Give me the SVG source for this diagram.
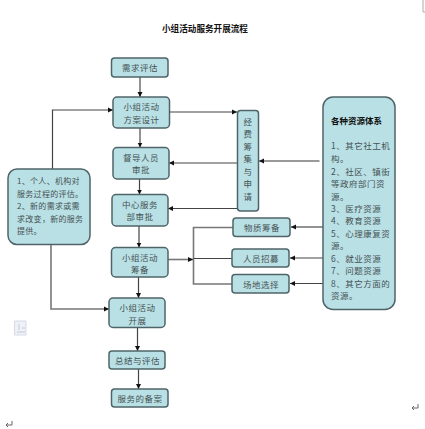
<svg xmlns="http://www.w3.org/2000/svg" width="425" height="429" viewBox="0 0 425 429">
<style>
.b{fill:#b9e0e5;stroke:#4f6468;stroke-width:1.5}
text{font-family:"Noto Sans CJK SC","Liberation Sans",sans-serif;font-size:8.5px;fill:#465254;letter-spacing:.5px}
.m{text-anchor:middle}
.s{font-size:8px;letter-spacing:.3px}
.t{fill:#111;font-weight:700;letter-spacing:0}
.c{fill:none;stroke:#444;stroke-width:1.2}
.g{stroke:#777;stroke-width:1.6;fill:none}
</style>
<defs>
<marker id="a" markerWidth="6" markerHeight="6" refX="5" refY="3" orient="auto" markerUnits="userSpaceOnUse"><path d="M0 0.5L5 3L0 5.500z" fill="#111"/></marker>
</defs>
<rect width="425" height="429" fill="#fff"/>
<path d="M423 0V12H425" fill="none" stroke="#aaa"/>
<text class="t m" x="205" y="32" style="font-size:8.6px">小组活动服务开展流程</text>
<g id="connectors" class="c">
<path d="M140 77V97" marker-end="url(#a)" class="g"/>
<path d="M140 128V147.5" marker-end="url(#a)" class="g"/>
<path d="M139.500 179V194.500" marker-end="url(#a)"/>
<path d="M139 226V247.500" marker-end="url(#a)"/>
<path d="M138.500 277V298" marker-end="url(#a)"/>
<path d="M137.500 327.500V351" marker-end="url(#a)"/>
<path d="M138.500 369V389" marker-end="url(#a)"/>
<path d="M52.500 169V110H113" marker-end="url(#a)"/>
<path d="M51 244.500V309H109" marker-end="url(#a)" class="g"/>
<path d="M169.500 112H237" marker-end="url(#a)"/>
<path d="M237 163H169" marker-end="url(#a)"/>
<path d="M237 208.500H168" marker-end="url(#a)"/>
<path d="M319.500 161H259" marker-end="url(#a)" class="g"/>
<path d="M323 227H291" marker-end="url(#a)" class="g"/>
<path d="M323 258H290" marker-end="url(#a)"/>
<path d="M323 283.500H290" marker-end="url(#a)"/>
<path d="M168 259.500H193" marker-end="url(#a)" class="g"/>
<path d="M233 227.500H193.500V284H232" class="g"/>
<path d="M193.500 258.500H232"/>
</g>
<g id="n1"><rect class="b" x="111.500" y="58" width="56.500" height="19" rx="3"/><text class="m" x="140" y="71">需求评估</text></g>
<g id="n2"><rect class="b" x="113" y="97" width="56.500" height="31" rx="4"/><text class="m" x="141.500" y="110">小组活动</text><text class="m" x="141.500" y="123">方案设计</text></g>
<g id="n3"><rect class="b" x="113" y="147.500" width="56" height="31.500" rx="4"/><text class="m" x="141" y="161">督导人员</text><text class="m" x="141" y="173">审批</text></g>
<g id="n4"><rect class="b" x="112" y="194.500" width="56" height="31.500" rx="4"/><text class="m" x="140" y="208">中心服务</text><text class="m" x="140" y="220">部审批</text></g>
<g id="n5"><rect class="b" x="111.500" y="247.500" width="56.500" height="29.500" rx="4"/><text class="m" x="140" y="261">小组活动</text><text class="m" x="140" y="273">筹备</text></g>
<g id="n6"><rect class="b" x="109" y="298" width="56" height="29.500" rx="4"/><text class="m" x="137.500" y="311">小组活动</text><text class="m" x="137.500" y="324">开展</text></g>
<g id="n7"><rect class="b" x="109" y="351" width="56" height="18" rx="3"/><text class="m" x="137.500" y="364">总结与评估</text></g>
<g id="n8"><rect class="b" x="111.500" y="389" width="56.500" height="18" rx="3"/><text class="m" x="140" y="402">服务的备案</text></g>
<g id="n9"><rect class="b" x="237.500" y="110.500" width="21" height="100.500" rx="3"/>
<text class="m" x="248" y="125">经</text><text class="m" x="248" y="137">费</text><text class="m" x="248" y="150">筹</text><text class="m" x="248" y="162">集</text><text class="m" x="248" y="175">与</text><text class="m" x="248" y="187">申</text><text class="m" x="248" y="200">请</text></g>
<g id="n10"><rect class="b" x="233" y="218" width="57" height="18.500" rx="3"/><text class="m" x="262" y="231">物质筹备</text></g>
<g id="n11"><rect class="b" x="232" y="249" width="57" height="18" rx="3"/><text class="m" x="261" y="262">人员招募</text></g>
<g id="n12"><rect class="b" x="232" y="274.500" width="57" height="18.500" rx="3"/><text class="m" x="261" y="288">场地选择</text></g>
<g id="n13"><rect class="b" x="8" y="169" width="82" height="75.500" rx="9"/>
<text class="s" x="17" y="184">1、个人、机构对</text><text class="s" x="17" y="196.500">服务过程的评估。</text><text class="s" x="17" y="209">2、新的需求或需</text><text class="s" x="17" y="221.500">求改变，新的服务</text><text class="s" x="17" y="234">提供。</text></g>
<g id="n14"><rect class="b" x="323" y="97" width="72" height="212.500" rx="10"/>
<text class="t" x="331" y="124" style="font-size:8.500px">各种资源体系</text>
<text x="331" y="149">1、其它社工机</text><text x="331" y="162">构。</text><text x="331" y="175">2、社区、镇街</text><text x="331" y="187">等政府部门资</text><text x="331" y="200">源。</text><text x="331" y="212">3、医疗资源</text><text x="331" y="224">4、教育资源</text><text x="331" y="237">5、心理康复资</text><text x="331" y="249">源。</text><text x="331" y="262">6、就业资源</text><text x="331" y="274">7、问题资源</text><text x="331" y="287">8、其它方面的</text><text x="331" y="299">资源。</text></g>
<path d="M14.500 321H26V335H14.500z" fill="#eef1f8" stroke="#d5dae6"/>
<path d="M19 324V330M22 328H25M17 332H25" stroke="#c3cad8" fill="none"/>
<path d="M12 421V425H6M8 423L6 425L8 427" fill="none" stroke="#666"/>
<path d="M418 404V408H412M414 406L412 408L414 410" fill="none" stroke="#666"/>
</svg>
